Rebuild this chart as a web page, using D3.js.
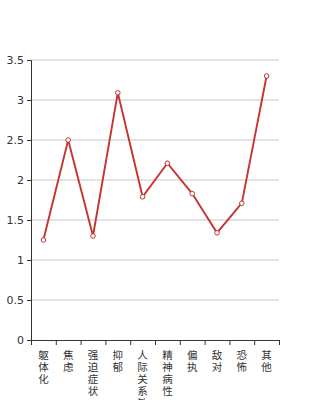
<!DOCTYPE html>
<html>
<head>
<meta charset="utf-8">
<script src="https://d3js.org/d3.v7.min.js"></script>
<style>
body{ margin:0; background:#fff; }
text{ font-family: "Noto Sans CJK SC", "DejaVu Sans", sans-serif; }
</style>
</head>
<body>
<svg class="chart"></svg>
<script>
// data
var categories = ["躯体化", "焦虑", "强迫症状", "抑郁", "人际关系敏感", "精神病性", "偏执", "敌对", "恐怖", "其他"];
var values = [1.25, 2.5, 1.3, 3.09, 1.79, 2.21, 1.83, 1.34, 1.71, 3.3];
var yTicks = [0, 0.5, 1, 1.5, 2, 2.5, 3, 3.5];

var margin = {top: 60, right: 31, bottom: 60, left: 31};
var width = 310 - margin.left - margin.right;
var height = 340 - margin.top;

var svg = d3.select(".chart")
	.attr("width", 310)
	.attr("height", 400);

var chart = svg.append("g")
	.attr("transform", "translate(" + margin.left + "," + margin.top + ")");

var x = d3.scaleBand().domain(categories).range([0, width]);
var y = d3.scaleLinear().domain([0, 3.5]).range([height, 0]);

// grid
chart.append("g")
	.selectAll("line")
	.data(yTicks.filter(function(d){ return d > 0; }))
	.enter().append("line")
	.attr("x1", 0).attr("x2", width)
	.attr("y1", function(d){ return y(d); })
	.attr("y2", function(d){ return y(d); })
	.attr("stroke", "#c8c8c8")
	.attr("stroke-width", 1);

// y axis
var yAxis = chart.append("g")
	.call(d3.axisLeft(y).tickValues(yTicks).tickFormat(d3.format("")).tickSize(4).tickPadding(3));
yAxis.select(".domain").attr("stroke", "#333");
yAxis.selectAll("line").attr("stroke", "#333");
yAxis.selectAll("text").attr("fill", "#333").style("font-size", "11px").style("font-family", "DejaVu Sans, sans-serif");

// x axis
var xAxis = chart.append("g")
	.attr("transform", "translate(0," + height + ")")
	.call(d3.axisBottom(x).tickSize(0).tickFormat(""));
xAxis.select(".domain").attr("stroke", "#333");

// tick marks at band edges
var edges = categories.map(function(c){ return x(c); }).concat([width]);
chart.append("g")
	.selectAll("line")
	.data(edges)
	.enter().append("line")
	.attr("x1", function(d){ return d + 0.5; })
	.attr("x2", function(d){ return d + 0.5; })
	.attr("y1", height).attr("y2", height + 5)
	.attr("stroke", "#333");

// vertical labels, one character per line
var labels = chart.append("g").selectAll("text")
	.data(categories)
	.enter().append("text")
	.attr("x", function(d){ return x(d) + x.bandwidth() / 2; })
	.attr("y", height + 8)
	.attr("text-anchor", "middle")
	.attr("fill", "#333")
	.style("font-size", "10.5px");
labels.each(function(d){
	var t = d3.select(this);
	d.split("").forEach(function(ch, i){
		t.append("tspan")
			.attr("x", x(d) + x.bandwidth() / 2)
			.attr("y", height + 19 + i * 12)
			.text(ch);
	});
});

// line
var line = d3.line()
	.x(function(d, i){ return x(categories[i]) + x.bandwidth() / 2; })
	.y(function(d){ return y(d); });

chart.append("path")
	.datum(values)
	.attr("fill", "none")
	.attr("stroke", "#c23531")
	.attr("stroke-width", 1.9)
	.attr("d", line);

chart.append("g").selectAll("circle")
	.data(values)
	.enter().append("circle")
	.attr("cx", function(d, i){ return x(categories[i]) + x.bandwidth() / 2; })
	.attr("cy", function(d){ return y(d); })
	.attr("r", 2.3)
	.attr("fill", "#fff")
	.attr("stroke", "#c23531")
	.attr("stroke-width", 1);
</script>
</body>
</html>
